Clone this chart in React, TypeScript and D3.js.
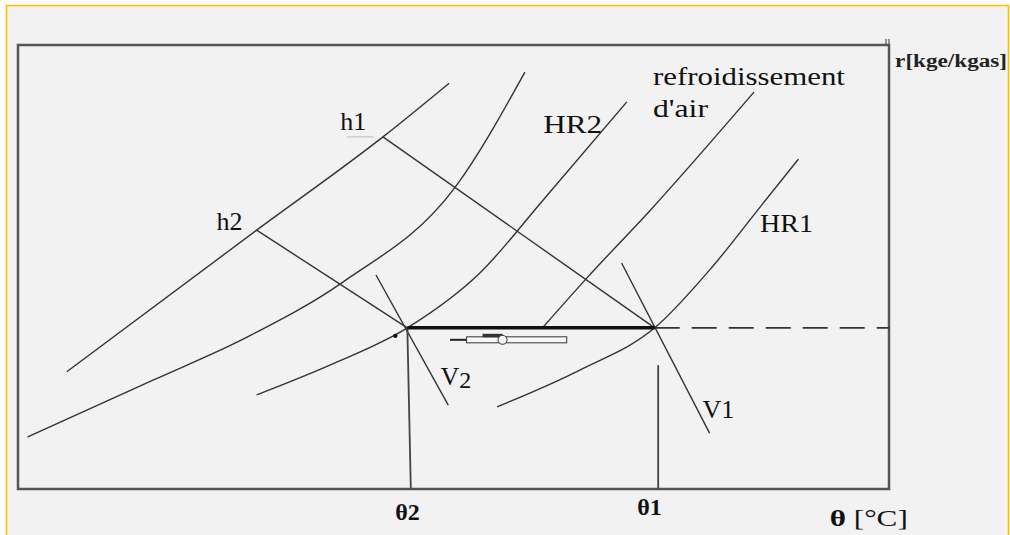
import React from 'react'
import * as d3 from 'd3'

// schematic psychrometric chart, axes in arbitrary units 0..100
const curveA: [number, number][] = [[5.6, 26.4], [27.4, 58.3], [41.9, 79.3], [49.5, 91.4]]
const curveB: [number, number][] = [[1.1, 11.7], [15.5, 24.5], [26.3, 34.2], [37.3, 46.6], [50.2, 68.0], [58.2, 93.9]]
const curveHR2: [number, number][] = [[27.4, 21.2], [35.8, 27.9], [44.7, 36.3], [53.0, 48.6], [60.3, 65.1], [69.9, 87.2]]
const coolingLine: [number, number][] = [[60.3, 36.5], [65.3, 47.5], [72.6, 62.8], [84.5, 89.4]]
const curveHR1: [number, number][] = [[55.0, 18.5], [64.5, 26.8], [73.1, 36.3], [79.7, 50.0], [85.4, 64.0], [89.6, 74.3]]

const theta2 = 44.7
const theta1 = 73.1
const rState = 36.3
const h1Start: [number, number] = [41.9, 79.3]
const h2Start: [number, number] = [27.4, 58.3]
const v2Line: [number, number][] = [[41.1, 48.2], [49.4, 18.9]]
const v1Line: [number, number][] = [[69.3, 50.9], [79.4, 12.6]]
const theta1TickTop = 27.9
const arrowX = [49.6, 51.5, 63.0]
const arrowY = 33.6

const labels = ['h1', 'h2', 'HR2', 'refroidissement', "d'air", 'HR1', 'V2', 'V1']
const xLabels = ['θ2', 'θ1']
const xTitle = ['θ', ' [°C]']
const yTitle = 'r[kge/kgas]'

export default function App() {
  const W = 1010, H = 535
  const x = d3.scaleLinear().domain([0, 100]).range([18, 889])
  const y = d3.scaleLinear().domain([0, 100]).range([489, 45])

  const curve = d3.line<[number, number]>().x(d => x(d[0])).y(d => y(d[1])).curve(d3.curveMonotoneX)
  const straight = d3.line<[number, number]>().x(d => x(d[0])).y(d => y(d[1]))

  const ink = '#333'
  const serif = 'Liberation Serif, DejaVu Serif, Noto Serif, serif'

  return (
    <svg width={W} height={H} style={{ position: 'absolute', left: 0, top: 0 }}>
      <rect x={0} y={0} width={W} height={H} fill="#fff" />
      <rect x={6} y={5} width={1003} height={H - 5} fill="#f2f2f2" />
      <path d="M6.5,535 V5.5 H1008.5 V535" fill="none" stroke="#ffc000" strokeWidth={1.6} />

      {/* frame */}
      <rect x={x(0)} y={y(100)} width={x(100) - x(0)} height={y(0) - y(100)} fill="none" stroke="#555" strokeWidth={2.5} />
      <line x1={x(100) - 3} x2={x(100) - 3} y1={y(100) - 6} y2={y(100)} stroke="#555" strokeWidth={1.2} />
      <line x1={x(100)} x2={x(100)} y1={y(100) - 6} y2={y(100)} stroke="#555" strokeWidth={1.2} />

      {/* humidity curves */}
      {[curveA, curveB, curveHR2, coolingLine, curveHR1].map((c, i) => (
        <path key={i} d={curve(c) || ''} fill="none" stroke={ink} strokeWidth={1.4} />
      ))}

      {/* enthalpy lines */}
      <path d={straight([h1Start, [theta1, rState]]) || ''} stroke={ink} strokeWidth={1.4} fill="none" />
      <path d={straight([h2Start, [theta2, rState]]) || ''} stroke={ink} strokeWidth={1.4} fill="none" />

      {/* specific volume lines */}
      <path d={straight(v2Line) || ''} stroke={ink} strokeWidth={1.4} fill="none" />
      <path d={straight(v1Line) || ''} stroke={ink} strokeWidth={1.4} fill="none" />

      {/* verticals to the temperature axis */}
      <path d={straight([[theta2, rState], [theta2 + 0.4, 0]]) || ''} stroke="#444" strokeWidth={1.8} fill="none" />
      <path d={straight([[theta1 + 0.4, theta1TickTop], [theta1 + 0.4, 0]]) || ''} stroke="#444" strokeWidth={1.8} fill="none" />

      {/* cooling process */}
      <path d={straight([[theta2, rState], [theta1, rState]]) || ''} stroke="#111" strokeWidth={3.5} fill="none" />
      <path d={straight([[theta1, rState], [100, rState]]) || ''} stroke="#333" strokeWidth={1.6} strokeDasharray="25,12" fill="none" />
      <circle cx={x(theta2) - 12} cy={y(rState) + 8} r={2.2} fill="#111" />

      {/* arrow */}
      <line x1={x(arrowX[0])} x2={x(arrowX[1])} y1={y(arrowY)} y2={y(arrowY)} stroke="#222" strokeWidth={2} />
      <rect x={x(arrowX[1])} y={y(arrowY) - 3} width={x(arrowX[2]) - x(arrowX[1])} height={6} fill="#f7f7f7" stroke="#333" strokeWidth={1} />
      <rect x={x(arrowX[1]) + 16} y={y(arrowY) - 6} width={20} height={3.5} fill="#333" />
      <circle cx={x(arrowX[1]) + 36} cy={y(arrowY)} r={4.5} fill="#f7f7f7" stroke="#333" strokeWidth={1} />

      {/* labels */}
      <g fill="#111" fontSize={26} fontFamily={serif}>
        <text x={x(37.0)} y={y(80.9)}>{labels[0]}</text>
        <line x1={x(37.8)} x2={x(40.8)} y1={y(79.3)} y2={y(79.3)} stroke="#bbb" strokeWidth={1} />
        <text x={x(22.8)} y={y(58.3)}>{labels[1]}</text>
        <text x={x(60.3)} y={y(80.2)} textLength={59} lengthAdjust="spacingAndGlyphs">{labels[2]}</text>
        <text x={x(72.9)} y={y(91.0)} textLength={192} lengthAdjust="spacingAndGlyphs">{labels[3]}</text>
        <text x={x(72.9)} y={y(83.8)} textLength={55} lengthAdjust="spacingAndGlyphs">{labels[4]}</text>
        <text x={x(85.2)} y={y(57.9)} textLength={53} lengthAdjust="spacingAndGlyphs">{labels[5]}</text>
        <text x={x(48.5)} y={y(23.4)}>
          {labels[6][0]}<tspan fontSize={24} dy={3}>{labels[6][1]}</tspan>
        </text>
        <text x={x(78.6)} y={y(16.0)}>{labels[7]}</text>
      </g>

      <g fill="#111" fontSize={24} fontWeight="bold" fontFamily={serif}>
        <text x={x(43.3)} y={y(-7.0)}>{xLabels[0]}</text>
        <text x={x(71.1)} y={y(-5.9)}>{xLabels[1]}</text>
      </g>
      <text x={x(93.2)} y={y(-8.3)} fontSize={24} fill="#111" fontFamily={serif} textLength={78} lengthAdjust="spacingAndGlyphs">
        <tspan fontWeight="bold">{xTitle[0]}</tspan>{xTitle[1]}
      </text>
      <text x={x(100.7)} y={y(95.0)} fontSize={18} fontWeight="bold" fill="#222" fontFamily={serif} textLength={112} lengthAdjust="spacingAndGlyphs">{yTitle}</text>
    </svg>
  )
}
